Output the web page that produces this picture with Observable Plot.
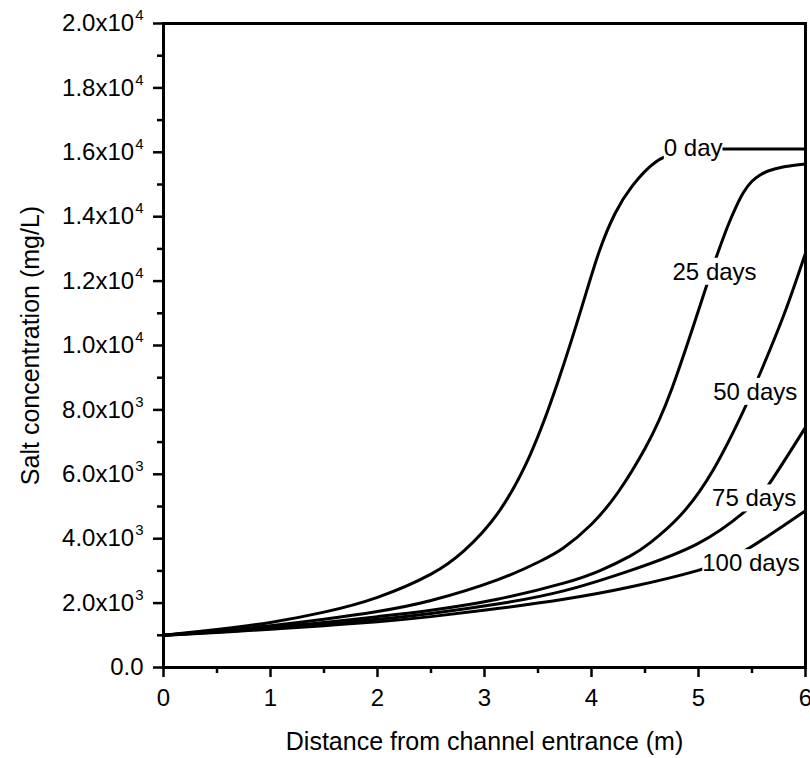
<!DOCTYPE html>
<html><head><meta charset="utf-8">
<script src="https://cdn.jsdelivr.net/npm/d3@7"></script>
<script src="https://cdn.jsdelivr.net/npm/@observablehq/plot@0.6"></script>
<style>body{margin:0;background:#fff}</style>
</head><body><div id="chart"></div>
<script>
const seriesNames = ["0 day", "25 days", "50 days", "75 days", "100 days"];

const x0   = [0, 0.5, 1, 1.5, 2, 2.5, 2.81, 3.12, 3.43, 3.69, 3.91, 4.07, 4.22, 4.38, 4.6, 4.8, 5.0, 5.5, 6.0];
const y0   = [1000, 1180, 1400, 1720, 2180, 2900, 3630, 4770, 6630, 8910, 11200, 12900, 14100, 14950, 15700, 16000, 16100, 16100, 16100];

const x25  = [0, 0.5, 1, 1.5, 2, 2.5, 3.12, 3.52, 3.74, 4.0, 4.25, 4.5, 4.75, 5.05, 5.17, 5.27, 5.35, 5.42, 5.5, 5.58, 5.65, 5.8, 6.0];
const y25  = [1000, 1140, 1300, 1500, 1740, 2080, 2720, 3300, 3720, 4450, 5450, 6800, 8650, 11600, 12780, 13680, 14300, 14750, 15100, 15300, 15420, 15550, 15640];

const x50  = [0, 0.5, 1, 1.5, 2, 2.5, 3.12, 3.74, 4.08, 4.36, 4.55, 4.83, 5.14, 5.42, 5.58, 5.8, 6.0];
const y50  = [1000, 1120, 1250, 1400, 1580, 1780, 2120, 2620, 3010, 3460, 3880, 4720, 6150, 7970, 9170, 10970, 12870];

const x75  = [0, 0.5, 1, 1.5, 2, 2.5, 3.12, 3.74, 4.36, 4.99, 5.42, 5.65, 6.0];
const y75  = [1000, 1100, 1210, 1340, 1500, 1680, 1970, 2380, 3010, 3840, 4810, 5650, 7460];

const x100 = [0, 0.5, 1, 1.5, 2, 2.5, 3.12, 3.74, 4.36, 4.99, 5.25, 5.49, 6.0];
const y100 = [1000, 1090, 1190, 1300, 1420, 1580, 1830, 2120, 2500, 3010, 3320, 3740, 4870];

const labelX = [4.95, 5.15, 5.53, 5.52, 5.49];
const labelY = [16120, 12280, 8550, 5240, 3230];

const xTicks = [0, 1, 2, 3, 4, 5, 6];
const xTickLabels = ["0", "1", "2", "3", "4", "5", "6"];
const xMinorTicks = [0.5, 1.5, 2.5, 3.5, 4.5, 5.5];
const yTicks = [0, 2000, 4000, 6000, 8000, 10000, 12000, 14000, 16000, 18000, 20000];
const yTickLabels = ["0.0", "2.0x10^3", "4.0x10^3", "6.0x10^3", "8.0x10^3", "1.0x10^4", "1.2x10^4", "1.4x10^4", "1.6x10^4", "1.8x10^4", "2.0x10^4"];
const yMinorTicks = [1000, 3000, 5000, 7000, 9000, 11000, 13000, 15000, 17000, 19000];

const xTitle = "Distance from channel entrance (m)";
const yTitle = "Salt concentration (mg/L)";

const xs = [x0, x25, x50, x75, x100];
const ys = [y0, y25, y50, y75, y100];
const rows = [];
seriesNames.forEach((s, k) => xs[k].forEach((x, i) => rows.push({series: s, x, y: ys[k][i]})));
const labels = seriesNames.map((s, i) => ({name: s, x: labelX[i], y: labelY[i]}));

const plot = Plot.plot({
  width: 810, height: 758,
  marginLeft: 163, marginRight: 5, marginTop: 23, marginBottom: 91,
  style: {fontSize: "24px", fontFamily: "'Liberation Sans', Arial, sans-serif", color: "black", background: "white"},
  x: {domain: [0, 6], label: null},
  y: {domain: [0, 20000], label: null},
  marks: [
    Plot.line(rows, {x: "x", y: "y", z: "series", stroke: "black", strokeWidth: 3, curve: "natural"}),
    Plot.text(labels, {x: "x", y: "y", text: "name", fill: "black", fontSize: 24}),
    Plot.axisX({ticks: xMinorTicks, tickSize: 6, strokeWidth: 2.5, tickFormat: () => "", label: null}),
    Plot.axisX({ticks: xTicks, tickSize: 10, tickPadding: 11, strokeWidth: 2.5, fontSize: 24,
      tickFormat: d => xTickLabels[xTicks.indexOf(d)], label: null}),
    Plot.axisY({ticks: yMinorTicks, tickSize: 6, strokeWidth: 2.5, tickFormat: () => "", label: null}),
    Plot.axisY({ticks: yTicks, tickSize: 10, tickPadding: 10, strokeWidth: 2.5, fontSize: 24,
      tickFormat: d => yTickLabels[yTicks.indexOf(d)], label: null}),
    Plot.frame({stroke: "black", strokeWidth: 3}),
    Plot.text([xTitle], {text: d => d, frameAnchor: "bottom", textAnchor: "middle", lineAnchor: "middle", dy: 74, fontSize: 25, fill: "black"}),
    Plot.text([yTitle], {text: d => d, frameAnchor: "left", textAnchor: "middle", lineAnchor: "middle", dx: -133, rotate: -90, fontSize: 25, fill: "black"})
  ]
});
document.getElementById("chart").append(plot);

// superscripts for tick labels
d3.select(plot).selectAll('g[aria-label="y-axis tick label"] text').each(function () {
  const s = this.textContent;
  const i = s.indexOf("^");
  if (i < 0) return;
  const t = d3.select(this);
  t.text(null);
  t.append("tspan").text(s.slice(0, i));
  t.append("tspan").attr("dy", "-11").attr("dx", "1").attr("font-size", "15px").text(s.slice(i + 1));
});

// white boxes behind the curve labels so the lines break around them
d3.select(plot).selectAll('g[aria-label="text"] text').each(function () {
  if (!seriesNames.includes(this.textContent)) return;
  const b = this.getBBox();
  const r = document.createElementNS("http://www.w3.org/2000/svg", "rect");
  r.setAttribute("x", b.x); r.setAttribute("y", b.y);
  r.setAttribute("width", b.width); r.setAttribute("height", b.height);
  r.setAttribute("fill", "white");
  const tr = this.getAttribute("transform");
  if (tr) r.setAttribute("transform", tr);
  this.parentNode.insertBefore(r, this);
});
</script>
</body></html>
